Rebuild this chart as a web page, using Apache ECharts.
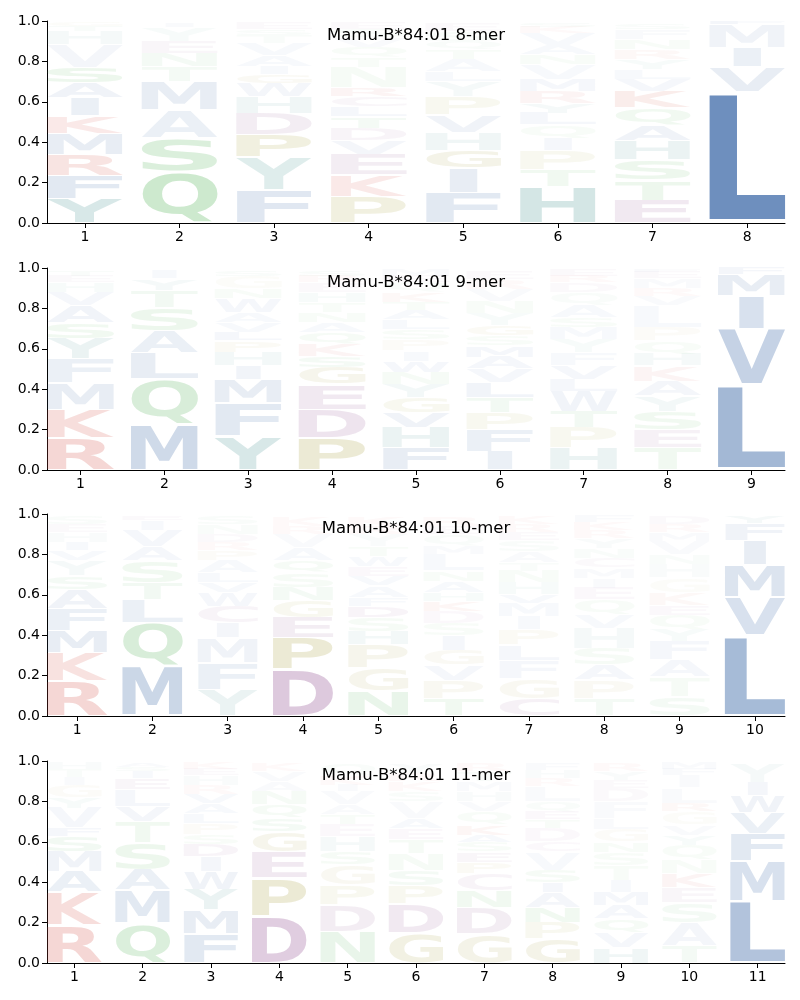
<!DOCTYPE html>
<html><head><meta charset="utf-8">
<script src="https://cdn.jsdelivr.net/npm/echarts@6/dist/echarts.min.js"></script>
<style>html,body{margin:0;padding:0;background:#fff}#c{width:800px;height:1000px}</style>
</head><body><div id="c"></div>
<script>
// ---- data: per position, letters bottom->top as [letter, probability, opacity] ----
const panelTitles = ['Mamu-B*84:01 8-mer','Mamu-B*84:01 9-mer','Mamu-B*84:01 10-mer','Mamu-B*84:01 11-mer'];
const ticks8 = [1,2,3,4,5,6,7,8];
const ticks9 = [1,2,3,4,5,6,7,8,9];
const ticks10 = [1,2,3,4,5,6,7,8,9,10];
const ticks11 = [1,2,3,4,5,6,7,8,9,10,11];
const yTicks = [0,0.2,0.4,0.6,0.8,1.0];

const mer8 = [
 [['Y',.12,.2],['F',.115,.15],['R',.105,.15],['M',.105,.12],['K',.085,.12],['I',.09,.1],['A',.075,.08],['S',.075,.1],['V',.115,.06],['H',.065,.05],['T',.025,.03],['G',.02,.03]],
 [['Q',.254,.28],['S',.166,.2],['A',.14,.1],['M',.14,.12],['T',.076,.06],['N',.066,.06],['E',.058,.05],['Y',.07,.04],['I',.02,.03]],
 [['F',.163,.16],['Y',.162,.16],['P',.111,.16],['D',.108,.1],['H',.083,.08],['W',.066,.06],['G',.042,.06],['I',.041,.04],['A',.054,.04],['V',.06,.04],['T',.04,.03],['S',.03,.03],['E',.03,.03]],
 [['P',.133,.16],['K',.104,.12],['E',.105,.1],['V',.066,.06],['D',.062,.06],['T',.057,.06],['L',.05,.05],['C',.05,.05],['R',.043,.06],['N',.1,.05],['T',.05,.04],['Q',.05,.04],['V',.05,.03],['S',.04,.03],['E',.03,.03]],
 [['F',.15,.15],['I',.124,.12],['G',.086,.12],['H',.09,.08],['V',.085,.08],['P',.092,.08],['Y',.073,.05],['L',.05,.04],['A',.06,.04],['T',.05,.04],['Q',.04,.03],['S',.05,.03],['E',.04,.03]],
 [['H',.18,.22],['T',.082,.08],['P',.098,.08],['I',.06,.05],['Q',.066,.04],['L',.058,.05],['Y',.05,.05],['R',.058,.06],['M',.058,.05],['V',.074,.04],['N',.05,.04],['A',.046,.04],['V',.06,.04],['K',.03,.03],['S',.02,.03]],
 [['E',.113,.12],['T',.099,.1],['S',.1,.1],['H',.098,.1],['A',.076,.08],['Q',.084,.08],['K',.082,.1],['V',.058,.05],['L',.05,.04],['Y',.05,.04],['R',.05,.04],['N',.05,.04],['F',.05,.03],['S',.03,.03]],
 [['L',.652,.75],['V',.12,.12],['I',.098,.1],['M',.115,.08],['F',.015,.06]]
];
const mer9 = [
 [['R',.16,.22],['K',.14,.18],['M',.13,.12],['F',.12,.1],['Y',.10,.1],['S',.08,.08],['A',.085,.07],['V',.065,.05],['H',.05,.04],['E',.03,.03],['T',.03,.03]],
 [['M',.225,.25],['Q',.225,.22],['L',.13,.12],['A',.11,.1],['S',.115,.1],['T',.085,.07],['Y',.057,.05],['I',.043,.04]],
 [['Y',.167,.2],['F',.166,.15],['M',.117,.12],['I',.066,.07],['H',.066,.06],['P',.058,.05],['L',.04,.05],['V',.05,.04],['A',.05,.04],['W',.07,.05],['N',.05,.04],['G',.06,.03],['S',.03,.03]],
 [['P',.16,.22],['D',.14,.15],['E',.125,.12],['G',.082,.1],['S',.058,.06],['K',.058,.06],['Q',.057,.05],['A',.05,.04],['N',.05,.04],['T',.05,.04],['H',.05,.04],['E',.05,.03],['R',.03,.03],['S',.03,.03]],
 [['F',.11,.12],['H',.10,.1],['V',.073,.08],['G',.075,.08],['Y',.067,.06],['N',.058,.05],['W',.057,.05],['I',.05,.04],['P',.058,.04],['S',.05,.04],['L',.047,.04],['A',.045,.04],['T',.04,.04],['K',.05,.04],['Q',.05,.03],['E',.03,.03],['M',.03,.03]],
 [['I',.093,.1],['F',.107,.1],['P',.083,.08],['T',.075,.07],['L',.075,.07],['V',.067,.05],['A',.06,.05],['M',.055,.05],['S',.05,.04],['G',.05,.05],['Y',.06,.04],['N',.06,.04],['V',.06,.03],['R',.05,.03],['E',.04,.03]],
 [['H',.11,.1],['P',.10,.08],['T',.08,.07],['W',.10,.07],['L',.06,.05],['V',.066,.05],['F',.064,.04],['Y',.068,.04],['M',.058,.04],['S',.05,.04],['A',.059,.04],['Q',.065,.03],['D',.05,.03],['R',.03,.03],['E',.03,.03]],
 [['T',.11,.08],['E',.09,.08],['S',.09,.08],['Y',.076,.06],['A',.074,.06],['K',.076,.06],['H',.058,.05],['Q',.066,.04],['P',.066,.04],['L',.109,.04],['V',.045,.03],['R',.04,.03],['M',.05,.03],['E',.03,.03],['F',.01,.03]],
 [['L',.42,.48],['V',.28,.3],['I',.165,.2],['M',.103,.12],['F',.032,.06]]
];
const mer10 = [
 [['R',.174,.22],['K',.14,.16],['M',.106,.12],['F',.11,.1],['A',.098,.08],['S',.066,.06],['Y',.076,.05],['V',.05,.04],['I',.04,.04],['H',.05,.03],['E',.04,.03],['S',.04,.03]],
 [['M',.248,.27],['Q',.215,.22],['L',.115,.1],['T',.082,.07],['S',.11,.08],['A',.07,.05],['V',.08,.05],['I',.05,.04],['E',.02,.03]],
 [['Y',.132,.1],['F',.132,.1],['M',.124,.08],['I',.075,.06],['C',.082,.06],['W',.065,.05],['V',.05,.04],['L',.05,.04],['A',.06,.04],['P',.05,.04],['R',.04,.03],['D',.04,.03],['N',.05,.03],['S',.04,.03]],
 [['D',.23,.3],['P',.158,.22],['E',.10,.1],['G',.082,.08],['N',.066,.06],['S',.074,.05],['Q',.06,.05],['A',.065,.04],['V',.065,.03],['R',.04,.03],['K',.05,.03]],
 [['N',.124,.12],['G',.116,.1],['P',.115,.1],['H',.065,.06],['S',.068,.05],['D',.057,.06],['F',.042,.04],['A',.058,.04],['V',.045,.04],['E',.05,.04],['W',.05,.04],['T',.05,.04],['Y',.06,.03],['R',.04,.03],['K',.05,.03]],
 [['T',.086,.08],['P',.092,.07],['V',.074,.05],['G',.075,.06],['I',.073,.05],['S',.06,.04],['D',.058,.04],['K',.05,.05],['H',.042,.04],['A',.058,.04],['N',.05,.04],['L',.082,.04],['M',.042,.03],['Q',.058,.03],['E',.04,.03],['R',.05,.03]],
 [['C',.086,.08],['G',.10,.07],['F',.091,.05],['L',.075,.05],['P',.075,.05],['I',.066,.04],['M',.067,.04],['V',.04,.04],['H',.06,.04],['N',.058,.04],['T',.042,.03],['A',.057,.03],['S',.053,.03],['E',.04,.03],['R',.04,.03],['K',.04,.03]],
 [['T',.086,.06],['P',.092,.06],['A',.074,.05],['S',.083,.05],['H',.10,.05],['V',.065,.04],['Q',.076,.04],['E',.058,.04],['I',.05,.03],['M',.05,.03],['C',.046,.03],['N',.05,.03],['Y',.05,.03],['R',.04,.03],['K',.04,.03],['F',.03,.03]],
 [['S',.095,.06],['T',.099,.05],['A',.083,.05],['F',.092,.05],['Y',.058,.04],['Q',.073,.04],['E',.05,.04],['K',.06,.04],['G',.074,.03],['H',.066,.03],['N',.05,.03],['V',.067,.03],['M',.043,.03],['R',.04,.03],['D',.04,.03]],
 [['L',.40,.46],['V',.19,.2],['M',.16,.18],['I',.12,.12],['F',.085,.08],['Y',.035,.05]]
];
const mer11 = [
 [['R',.187,.22],['K',.166,.18],['A',.10,.1],['M',.099,.08],['S',.075,.07],['F',.041,.05],['V',.10,.05],['Y',.052,.04],['G',.06,.04],['I',.04,.03],['T',.04,.03],['H',.03,.03]],
 [['Q',.196,.2],['M',.164,.15],['A',.10,.1],['S',.134,.1],['T',.106,.08],['V',.076,.06],['L',.084,.05],['E',.057,.05],['I',.033,.04],['S',.02,.03],['A',.02,.03]],
 [['F',.146,.15],['M',.116,.12],['Y',.10,.1],['W',.091,.08],['I',.074,.06],['D',.058,.06],['S',.05,.04],['P',.058,.04],['L',.05,.04],['A',.047,.04],['V',.044,.04],['R',.046,.03],['H',.05,.03],['E',.03,.03],['K',.03,.03]],
 [['D',.232,.28],['P',.188,.22],['E',.132,.12],['G',.10,.1],['S',.066,.06],['Q',.066,.05],['N',.066,.05],['A',.05,.03],['V',.05,.03],['K',.04,.03]],
 [['N',.154,.12],['D',.133,.1],['P',.099,.08],['G',.10,.07],['S',.066,.05],['H',.075,.05],['E',.058,.04],['T',.05,.04],['A',.049,.03],['V',.066,.03],['I',.03,.03],['K',.05,.03],['Q',.06,.03]],
 [['G',.15,.15],['D',.143,.12],['P',.091,.08],['S',.076,.06],['N',.08,.05],['T',.07,.05],['E',.057,.04],['A',.05,.04],['V',.083,.03],['S',.05,.03],['K',.05,.03],['R',.04,.03],['Y',.05,.03]],
 [['G',.143,.12],['D',.133,.1],['N',.084,.08],['C',.083,.06],['P',.057,.05],['E',.05,.05],['S',.05,.04],['A',.034,.04],['K',.05,.05],['Q',.066,.04],['V',.05,.03],['H',.05,.03],['M',.05,.03],['T',.05,.03],['R',.04,.03]],
 [['G',.118,.12],['P',.082,.08],['N',.076,.08],['A',.074,.06],['I',.05,.05],['S',.06,.05],['V',.09,.04],['C',.05,.04],['D',.067,.04],['T',.043,.04],['E',.04,.04],['Q',.05,.03],['L',.075,.03],['R',.04,.03],['H',.04,.03],['F',.035,.03]],
 [['H',.077,.08],['V',.073,.05],['Q',.068,.05],['A',.067,.05],['M',.066,.05],['I',.059,.04],['T',.074,.04],['S',.066,.04],['N',.05,.04],['G',.06,.04],['L',.057,.03],['F',.083,.03],['D',.067,.03],['E',.04,.03],['Y',.04,.03],['R',.043,.03]],
 [['T',.085,.06],['A',.115,.06],['S',.10,.06],['E',.076,.05],['K',.067,.06],['N',.067,.04],['Q',.074,.04],['Y',.05,.04],['V',.05,.03],['G',.066,.03],['R',.04,.04],['L',.077,.03],['I',.063,.03],['F',.03,.03],['M',.03,.03]],
 [['L',.305,.4],['M',.20,.2],['F',.135,.15],['V',.105,.1],['W',.085,.08],['I',.065,.06],['Y',.095,.05]]
];

// ---- styling ----
const groupColors = [
  ['AVLIMFW', [62,106,168]],
  ['YH', [58,141,138]],
  ['KR', [210,74,63]],
  ['DEC', [142,76,142]],
  ['PG', [168,160,64]],
  ['QSTN', [76,175,80]]
];
function letterRGB(L){ for (const g of groupColors) if (g[0].indexOf(L) >= 0) return g[1]; return [128,128,128]; }
const FONT = 'bold 100px "DejaVu Sans"';
const VPAD = 0.06;

// glyph ink metrics measured on a canvas (textBaseline middle, align left)
const mcv = document.createElement('canvas').getContext('2d');
mcv.font = FONT; mcv.textBaseline = 'middle'; mcv.textAlign = 'left';
const metrics = {};
'ACDEFGHIKLMNPQRSTVWY'.split('').forEach(L => {
  const m = mcv.measureText(L);
  metrics[L] = {l: m.actualBoundingBoxLeft, r: m.actualBoundingBoxRight, a: m.actualBoundingBoxAscent, d: m.actualBoundingBoxDescent,
                w: m.actualBoundingBoxLeft + m.actualBoundingBoxRight, h: m.actualBoundingBoxAscent + m.actualBoundingBoxDescent};
});

const panels = [mer8, mer9, mer10, mer11];
const tickSets = [ticks8, ticks9, ticks10, ticks11];
const gridTops = [21, 268, 514, 761];
const gridH = 202;

function buildItems(cols){
  const items = [];
  cols.forEach((col, ci) => {
    let y = 0;
    col.forEach(([L, h, a]) => { items.push({pos: ci + 1, y0: y, y1: y + h, L, a}); y += h; });
  });
  return items;
}

function makeRender(items){
  return function(params, api){
    const d = items[params.dataIndex];
    const p = api.value(0), v0 = api.value(1), v1 = api.value(2);
    const hh = v1 - v0;
    const pA = api.coord([p - 0.4, v0 + hh * VPAD / 2]);
    const pB = api.coord([p + 0.4, v1 - hh * VPAD / 2]);
    const W = pB[0] - pA[0], H = pA[1] - pB[1];
    const m = metrics[d.L];
    const sy = H / m.h;
    const sx = Math.min(W / m.w, W / metrics.E.w);
    const inkW = m.w * sx;
    const left = pA[0] + (W - inkW) / 2;
    const c = letterRGB(d.L);
    return {
      type: 'text',
      x: left + m.l * sx,
      y: pB[1] + m.a * sy,
      scaleX: sx, scaleY: sy,
      silent: true,
      style: {text: d.L, font: FONT, fill: 'rgba(' + c[0] + ',' + c[1] + ',' + c[2] + ',' + d.a + ')', align: 'left', verticalAlign: 'middle'}
    };
  };
}

const grids = [], xAxes = [], yAxes = [], series = [], titles = [];
panels.forEach((cols, i) => {
  const n = cols.length;
  grids.push({left: 47, right: 15, top: gridTops[i], height: gridH, containLabel: false});
  xAxes.push({
    type: 'value', gridIndex: i, min: 0.6, max: n + 0.4,
    axisLine: {show: true, onZero: false, lineStyle: {color: '#000', width: 1}},
    axisTick: {show: true, length: 5, customValues: tickSets[i], lineStyle: {color: '#000'}},
    axisLabel: {customValues: tickSets[i], margin: 7, fontSize: 14, color: '#000', fontFamily: 'DejaVu Sans'},
    splitLine: {show: false}
  });
  yAxes.push({
    type: 'value', gridIndex: i, min: 0, max: 1, interval: 0.2,
    axisLine: {show: true, lineStyle: {color: '#000', width: 1}},
    axisTick: {show: true, length: 5, lineStyle: {color: '#000'}},
    axisLabel: {margin: 7, fontSize: 14, color: '#000', fontFamily: 'DejaVu Sans', formatter: v => v.toFixed(1)},
    splitLine: {show: false}
  });
  const items = buildItems(cols);
  series.push({
    type: 'custom', xAxisIndex: i, yAxisIndex: i, silent: true, clip: false,
    renderItem: makeRender(items),
    data: items.map(d => [d.pos, d.y0, d.y1])
  });
  titles.push({text: panelTitles[i], left: 416, top: gridTops[i] + 6, textAlign: 'center', padding: 0,
    textStyle: {fontSize: 16.5, fontWeight: 'normal', color: '#000', fontFamily: 'DejaVu Sans'}});
});

const chart = echarts.init(document.getElementById('c'));
chart.setOption({animation: false, backgroundColor: '#fff', title: titles, grid: grids, xAxis: xAxes, yAxis: yAxes, series});
</script>
</body></html>
